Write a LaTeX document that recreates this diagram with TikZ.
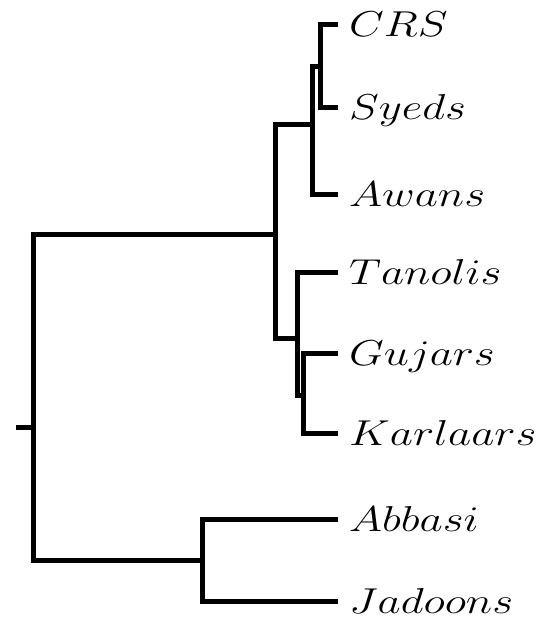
\RequirePackage{fix-cm}
\documentclass[tikz,border=0pt]{standalone}
\usepackage{graphicx}
\tikzset{
  branch/.style={line width=5pt},
  taxon/.style={font=\fontsize{36}{42}\selectfont, inner xsep=11pt, inner ysep=0pt,
    text height=24pt, text depth=0pt},
}
\newcommand\tx[1]{\scalebox{1.25}[1]{$#1$}}
\begin{document}
\begin{tikzpicture}[x=1pt,y=-1pt]
        \useasboundingbox(0,0)rectangle(545,620);
        % inner nodes
        \coordinate(stub)at(16,427);
        \coordinate(root)at(33,427);
        \coordinate(A)at(275,234);
        \coordinate(B)at(202,560);
        \coordinate(C)at(312,125);
        \coordinate(D)at(297,338);
        \coordinate(E)at(320,67);
        \coordinate(F)at(303,395);
        % leaves
        \coordinate[label={[taxon]right:\tx{CRS}}](crs)at(338,25);
        \coordinate[label={[taxon]right:\tx{Syeds}}](syeds)at(338,108);
        \coordinate[label={[taxon]right:\tx{Awans}}](awans)at(338,195);
        \coordinate[label={[taxon]right:\tx{Tanolis}}](tanolis)at(338,272);
        \coordinate[label={[taxon]right:\tx{Gujars}}](gujars)at(338,353);
        \coordinate[label={[taxon]right:\tx{Karlaars}}](karlaars)at(338,433);
        \coordinate[label={[taxon]right:\tx{Abbasi}}](abbasi)at(338,519);
        \coordinate[label={[taxon]right:\tx{Jadoons}}](jadoons)at(338,601);
        % branches
        \draw[branch](stub)--(root);
        \draw[branch](root)|-(A);
        \draw[branch](root)|-(B);
        \draw[branch](A)|-(C);
        \draw[branch](A)|-(D);
        \draw[branch](C)|-(E);
        \draw[branch](C)|-(awans);
        \draw[branch](E)|-(crs);
        \draw[branch](E)|-(syeds);
        \draw[branch](D)|-(tanolis);
        \draw[branch](D)|-(F);
        \draw[branch](F)|-(gujars);
        \draw[branch](F)|-(karlaars);
        \draw[branch](B)|-(abbasi);
        \draw[branch](B)|-(jadoons);
    \end{tikzpicture}
\end{document}
